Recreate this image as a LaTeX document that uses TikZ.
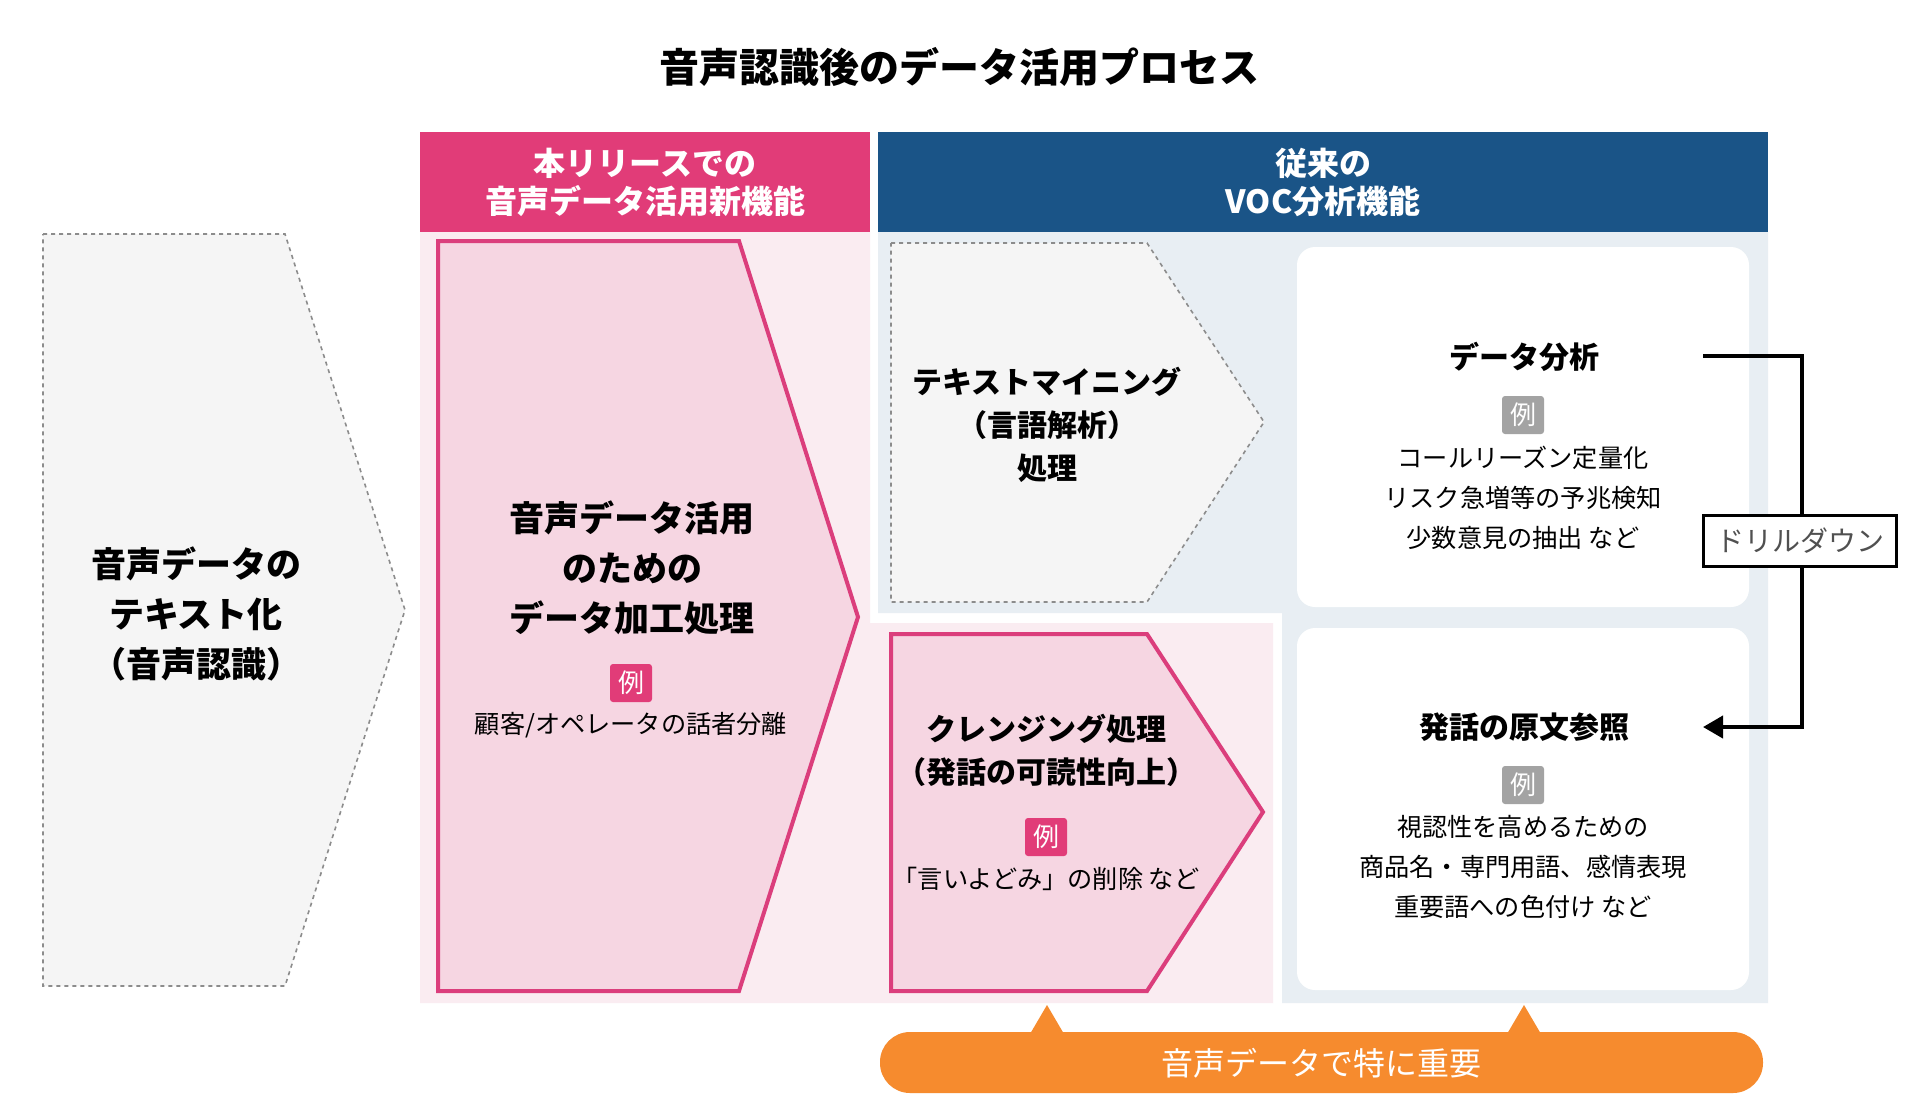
\documentclass[tikz,border=0pt]{standalone}
\usepackage{fontspec}
\setmainfont{Noto Sans CJK JP}
\usetikzlibrary{arrows.meta}
\definecolor{hpink}{HTML}{E13C78}
\definecolor{hblue}{HTML}{1A5487}
\definecolor{pinkbg}{HTML}{FAECF1}
\definecolor{pinkfill}{HTML}{F6D6E2}
\definecolor{pinkline}{HTML}{DB3E7C}
\definecolor{bluebg}{HTML}{E8EEF3}
\definecolor{grayfill}{HTML}{F5F5F5}
\definecolor{grayline}{HTML}{8C8C8C}
\definecolor{badgegray}{HTML}{A3A3A3}
\definecolor{orng}{HTML}{F68B2E}
\definecolor{drilltext}{HTML}{505050}
\newcommand\myfs[2]{\fontsize{#1}{#2}\selectfont}
\begin{document}
\begin{tikzpicture}[x=0.5pt,y=-0.5pt,
  dasharrow/.style={fill=grayfill, draw=grayline, line width=0.8pt, dash pattern=on 2pt off 2pt},
  pinkarrow/.style={fill=pinkfill, draw=pinkline, line width=2pt, line join=miter},
  hdrtext/.style={text=white, align=center, font=\bfseries\myfs{16}{19}},
  bigtext/.style={align=center, font=\bfseries\myfs{17.5}{25}},
  midtext/.style={align=center, font=\bfseries\myfs{15}{21.5}},
  smalltext/.style={align=center, font=\myfs{12.6}{20}},
  badge/.style={text=white, minimum width=21pt, minimum height=19pt, inner sep=0pt, rounded corners=1.5pt, font=\myfs{13}{13}},
  whitebox/.style={fill=white, rounded corners=9pt}
]
\useasboundingbox (0,0) rectangle (1918,1116);
\fill[white] (0,0) rectangle (1918,1116);

% title
\node[font=\bfseries\myfs{20}{22}] (title) at (959,67) {音声認識後のデータ活用プロセス};

% panel backgrounds
\fill[pinkbg] (420,232) -- (870,232) -- (870,623) -- (1273,623) -- (1273,1003) -- (420,1003) -- cycle;
\fill[bluebg] (878,232) -- (1768,232) -- (1768,1003) -- (1282,1003) -- (1282,613) -- (878,613) -- cycle;

% headers
\fill[hpink] (420,132) rectangle (870,232);
\fill[hblue] (878,132) rectangle (1768,232);
\node[hdrtext] (hdrA) at (645,182) {本リリースでの\\音声データ活用新機能};
\node[hdrtext] (hdrB) at (1323,182) {従来の\\VOC分析機能};

% left gray arrow
\draw[dasharrow] (43,234) -- (285,234) -- (405,610) -- (285,986) -- (43,986) -- cycle;
\node[bigtext] (stt) at (196,614) {音声データの\\テキスト化\\（音声認識）};

% big pink arrow
\draw[pinkarrow] (438,241) -- (739,241) -- (858,617) -- (739,991) -- (438,991) -- cycle;
\node[bigtext] (proc) at (632,568) {音声データ活用\\のための\\データ加工処理};
\node[badge, fill=hpink] (ex1) at (631,683) {例};
\node[smalltext] (ex1t) at (631,725) {顧客/オペレータの話者分離};

% text mining arrow
\draw[dasharrow] (891,243) -- (1147,243) -- (1264,422) -- (1147,602) -- (891,602) -- cycle;
\node[midtext] (tm) at (1047,425) {テキストマイニング\\（言語解析）\\処理};

% cleansing arrow
\draw[pinkarrow] (891,634) -- (1147,634) -- (1263,812) -- (1147,991) -- (891,991) -- cycle;
\node[midtext] (cl) at (1046,750) {クレンジング処理\\（発話の可読性向上）};
\node[badge, fill=hpink] (ex2) at (1046,837) {例};
\node[smalltext] (ex2t) at (1046,879) {「言いよどみ」の削除 など};

% white boxes
\fill[whitebox] (1297,247) rectangle (1749,607);
\fill[whitebox] (1297,628) rectangle (1749,990);
\node[font=\bfseries\myfs{15}{17}] (da) at (1524,357) {データ分析};
\node[badge, fill=badgegray] (ex3) at (1523,415) {例};
\node[smalltext] (ex3t) at (1523,498) {コールリーズン定量化\\リスク急増等の予兆検知\\少数意見の抽出 など};
\node[font=\bfseries\myfs{15}{17}] (gb) at (1524,727) {発話の原文参照};
\node[badge, fill=badgegray] (ex4) at (1523,785) {例};
\node[smalltext] (ex4t) at (1523,867) {視認性を高めるための\\商品名・専門用語、感情表現\\重要語への色付け など};

% drill-down connector
\coordinate (c1) at (1703,356);
\coordinate (c2) at (1802,356);
\coordinate (c3) at (1802,727);
\coordinate (c4) at (1703,727);
\draw[line width=2pt, -{Triangle[length=10pt,width=11pt]}] (c1) -- (c2) -- (c3) -- (c4);
\node[draw, line width=1.6pt, fill=white, minimum width=96.5pt, minimum height=25.5pt, inner sep=0pt, text=drilltext, font=\myfs{14}{14}] (drill) at (1800,541) {ドリルダウン};

% orange callout
\fill[orng] (1030,1034) -- (1047,1005) -- (1064,1034) -- cycle;
\fill[orng] (1507,1034) -- (1524,1005) -- (1541,1034) -- cycle;
\fill[orng, rounded corners=15pt] (880,1032) rectangle (1763,1093);
\node[text=white, font=\myfs{16}{16}] (imp) at (1321,1063) {音声データで特に重要};
\end{tikzpicture}
\end{document}
